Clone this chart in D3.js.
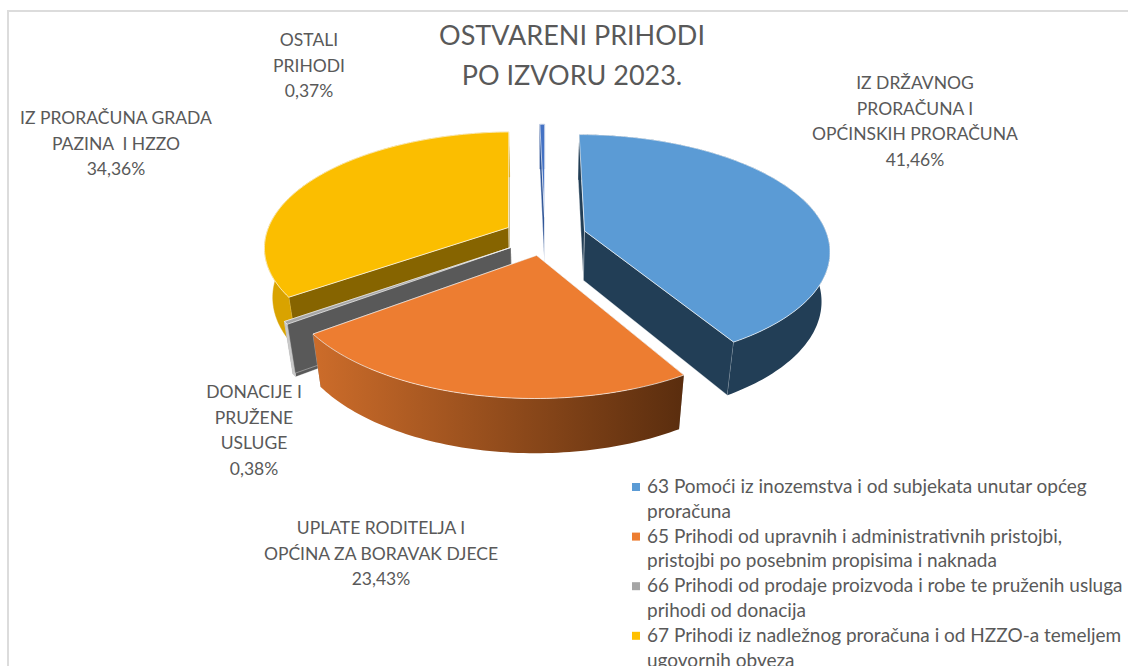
<!DOCTYPE html>
<html><head><meta charset="utf-8">
<script src="https://cdn.jsdelivr.net/npm/d3@7"></script>
<style>html,body{margin:0;padding:0;background:#fff;overflow:hidden}svg{display:block}text{font-family:Lato,"Liberation Sans",sans-serif;fill:#595959;white-space:pre}</style>
</head><body><svg id="c" width="1128" height="666"></svg>
<script>
// Data
const seriesNames=["IZ DRŽAVNOG PRORAČUNA I OPĆINSKIH PRORAČUNA","UPLATE RODITELJA I OPĆINA ZA BORAVAK DJECE","DONACIJE I PRUŽENE USLUGE","IZ PRORAČUNA GRADA PAZINA I HZZO","OSTALI PRIHODI"];
const seriesValues=[41.46,23.43,0.38,34.36,0.37];
const topColors=["#5B9BD5","#ED7D31","#A5A5A5","#FBBE00","#4472C4"];
const edgeColors=["#223E56","#595959","#595959","#866400","#2F5597"];
const rimColors=["#223E56","url(#orangeRim)","#C9C9C9","#D9A300","#2F5597"];
const drawOrder=[4,3,0,2,1];
const titleLines=["OSTVARENI PRIHODI","PO IZVORU 2023."];
const labelLines=[
 {lines:["IZ DRŽAVNOG","PRORAČUNA I","OPĆINSKIH PRORAČUNA","41,46%"],x:915,y:89},
 {lines:["UPLATE RODITELJA I","OPĆINA ZA BORAVAK DJECE","23,43%"],x:381,y:534},
 {lines:["DONACIJE I","PRUŽENE","USLUGE","0,38%"],x:254,y:398},
 {lines:["IZ PRORAČUNA GRADA","PAZINA  I HZZO","34,36%"],x:116,y:124},
 {lines:["OSTALI","PRIHODI","0,37%"],x:309,y:46}
];
const legendItems=[
 {color:"#5B9BD5",lines:["63 Pomoći iz inozemstva i od subjekata unutar općeg","proračuna"]},
 {color:"#ED7D31",lines:["65 Prihodi od upravnih i administrativnih pristojbi,","pristojbi po posebnim propisima i naknada"]},
 {color:"#A5A5A5",lines:["66 Prihodi od prodaje proizvoda i robe te pruženih usluga","prihodi od donacija"]},
 {color:"#FFC000",lines:["67 Prihodi iz nadležnog proračuna i od HZZO-a temeljem","ugovornih obveza"]}
];

const svg=d3.select("#c");
// frame
svg.append("rect").attr("x",8).attr("y",11).attr("width",1140).attr("height",700).attr("fill","#fff").attr("stroke","#DCDCDC").attr("stroke-width",2);

const defs=svg.append("defs");
const g=defs.append("linearGradient").attr("id","orangeRim").attr("gradientUnits","userSpaceOnUse")
 .attr("x1",315).attr("x2",684).attr("y1",0).attr("y2",0);
g.append("stop").attr("offset",0).attr("stop-color","#CC6C2A");
g.append("stop").attr("offset",1).attr("stop-color","#5A2D0E");

// Ground-plane scales with a perspective divide
const xS=d3.scaleLinear().domain([-1,1]).range([545-243,545+243]);
const yS=d3.scaleLinear().domain([-1,1]).range([236-113.3,236+113.3]);
const zS=d3.scaleLinear().domain([0,1]).range([0,51]);
const k=0.16,c=0.03,explode=0.17;
function project(u,v,z){const w=1-k*v+c*z;return [xS(u/w),yS(v/w)+zS(z)/w];}

const arcs=d3.pie().sort(null).value(d=>d).startAngle(0).endAngle(2*Math.PI)(seriesValues);
const line=d3.line().curve(d3.curveLinear);
function ring(e0,e1){const n=Math.max(2,Math.ceil((e1-e0)/0.02));return d3.range(n+1).map(i=>e0+(e1-e0)*i/n);}

drawOrder.forEach(i=>{
 const a=arcs[i],mid=(a.startAngle+a.endAngle)/2;
 const ox=explode*Math.sin(mid),oy=-explode*Math.cos(mid);
 const P=(t,r,z)=>project(ox+r*Math.sin(t),oy-r*Math.cos(t),z);
 const ang=ring(a.startAngle,a.endAngle);
 const gs=svg.append("g").attr("class","slice");
 const quad=(t)=>[P(t,0,0),P(t,1,0),P(t,1,1),P(t,0,1)];
 // side walls
 [a.startAngle,a.endAngle].forEach(t=>{
   gs.append("path").attr("d",line(quad(t))+"Z").attr("fill",edgeColors[i]).attr("stroke","#fff").attr("stroke-opacity",.45).attr("stroke-width",.8);
 });
 // outer rim
 const rim=[...ang.map(t=>P(t,1,0)),...ang.slice().reverse().map(t=>P(t,1,1))];
 gs.append("path").attr("d",line(rim)+"Z").attr("fill",rimColors[i]).attr("stroke",i===1||i===0?"none":rimColors[i]).attr("stroke-width",.5);
 // top
 const top=[P(0,0,0),...ang.map(t=>P(t,1,0))];
 gs.append("path").attr("d",line(top)+"Z").attr("fill",topColors[i]).attr("stroke","#fff").attr("stroke-opacity",.65).attr("stroke-width",1);
});

function block(o,size,lh){
 const t=svg.append("text").attr("text-anchor","middle").attr("font-size",size);
 o.lines.forEach((s,j)=>t.append("tspan").attr("x",o.x).attr("y",o.y+j*lh).text(s));
}
block({lines:titleLines,x:572,y:45},27,40);
labelLines.forEach(o=>block(o,17.5,25.5));

const leg=svg.append("g");
const legY=d3.scaleLinear().domain([0,1]).range([493,517.8]);
legendItems.forEach((it,i)=>{
 const y0=legY(i*2);
 leg.append("rect").attr("x",632).attr("y",y0-10).attr("width",8).attr("height",8).attr("fill",it.color);
 it.lines.forEach((s,j)=>leg.append("text").attr("x",647).attr("y",legY(i*2+j)).attr("font-size",19).text(s));
});
</script></body></html>
